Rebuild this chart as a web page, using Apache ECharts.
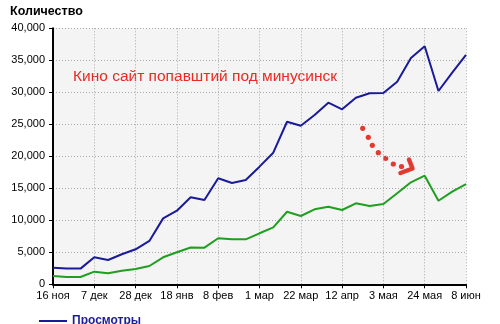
<!DOCTYPE html>
<html><head><meta charset="utf-8">
<script src="https://cdn.jsdelivr.net/npm/echarts@6/dist/echarts.min.js"></script>
<style>html,body{margin:0;padding:0;background:#fff}#c{width:500px;height:324px}</style>
</head><body><div id="c"></div>
<script>
const categories = ['16 ноя','23 ноя','30 ноя','7 дек','14 дек','21 дек','28 дек','4 янв','11 янв','18 янв','25 янв','1 фев','8 фев','15 фев','22 фев','1 мар','8 мар','15 мар','22 мар','29 мар','5 апр','12 апр','19 апр','26 апр','3 мая','10 мая','17 мая','24 мая','31 мая','7 июн','8 июн'];
const views = [2600,2450,2450,4220,3800,4690,5470,6770,10300,11500,13600,13170,16560,15830,16300,18380,20560,25400,24780,26450,28380,27340,29160,29840,29890,31660,35360,37190,30200,33060,35830];
const visitors = [1300,1140,1140,1970,1720,2120,2390,2860,4220,5000,5750,5720,7190,7030,7030,7970,8900,11340,10670,11720,12130,11610,12660,12230,12550,14220,15940,16970,13060,14470,15670];
const yTicks = [0,5000,10000,15000,20000,25000,30000,35000,40000];
const annotation = 'Кино сайт попавштий под минусинск';

const chart = echarts.init(document.getElementById('c'), null, {renderer:'canvas'});
const FONT = 'Liberation Sans, Arial, sans-serif';
const dots = [[362.7,128.3],[368.3,137.3],[372.3,145.3],[378.3,152.7],[385.7,158.3],[393.3,164],[401.5,166.5]];
const graphics = [
  {type:'text', left:10, top:5, style:{text:'Количество', font:'bold 12.5px '+FONT, fill:'#000'}},
  {type:'text', left:73, top:69, style:{text:annotation, font:'15.5px '+FONT, fill:'#e82a22'}},
  {type:'polyline', shape:{points:[[409,159.5],[412.5,168.5],[400.5,173]]}, style:{stroke:'#e23a30', lineWidth:4.5, fill:null, lineJoin:'round', lineCap:'round'}}
].concat(dots.map(d=>({type:'circle', shape:{cx:d[0], cy:d[1], r:2.6}, style:{fill:'#e23a30'}})));

chart.setOption({
  animation:false,
  backgroundColor:'#ffffff',
  textStyle:{fontFamily:FONT},
  grid:{left:53, right:34, top:28.3, bottom:39.7, show:true, backgroundColor:'#f4f4f4', borderWidth:0},
  legend:{data:['Просмотры'], left:34, top:310, icon:'rect', itemWidth:28, itemHeight:2, itemGap:10,
    textStyle:{fontFamily:FONT, fontSize:12, fontWeight:'bold', color:'#1d1d9a'}},
  xAxis:{type:'category', data:categories, boundaryGap:false,
    axisLine:{lineStyle:{color:'#000', width:2}},
    axisTick:{interval:2, length:4, lineStyle:{color:'#000'}},
    axisLabel:{interval:2, color:'#000', fontSize:11, margin:6, fontFamily:FONT},
    splitLine:{show:true, interval:2, lineStyle:{color:'#a8a8a8', type:[1,2], width:1}}},
  yAxis:{type:'value', min:0, max:40000, interval:5000,
    axisLine:{show:true, lineStyle:{color:'#000', width:2}},
    axisTick:{show:true, length:4, lineStyle:{color:'#000'}},
    axisLabel:{color:'#000', fontSize:11, margin:8, fontFamily:FONT,
      formatter:v=>yTicks.includes(v)?v.toLocaleString('en-US'):''},
    splitLine:{show:true, lineStyle:{color:'#a8a8a8', type:[1,2], width:1}}},
  series:[
    {name:'Просмотры', type:'line', data:views, symbol:'none', lineStyle:{color:'#1a1a9a', width:2}, itemStyle:{color:'#1a1a9a'}, z:3},
    {name:'Посетители', type:'line', data:visitors, symbol:'none', lineStyle:{color:'#1f9f1f', width:2}, itemStyle:{color:'#1f9f1f'}, z:3}
  ],
  graphic:graphics
});
</script></body></html>
